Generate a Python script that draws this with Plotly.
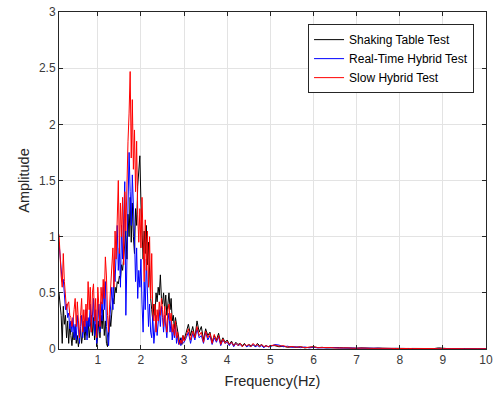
import numpy as np
import plotly.graph_objects as go

# Frequency grid (Hz): dense below 3 Hz, coarser above
freq = list(np.round(np.arange(0.100, 3.0001, 0.025), 3)) + \
       list(np.round(np.arange(3.05, 5.0001, 0.05), 3)) + \
       list(np.round(np.arange(5.1, 10.0001, 0.1), 3))

shaking_table = [
    0.50, 0.42, 0.30, 0.05, 0.38, 0.22, 0.30, 0.10, 0.25, 0.05,
    0.22, 0.12, 0.03, 0.15, 0.08, 0.20, 0.05, 0.12, 0.02, 0.10,
    0.18, 0.05, 0.15, 0.22, 0.08, 0.20, 0.12, 0.25, 0.10, 0.18,
    0.30, 0.12, 0.28, 0.08, 0.22, 0.02, 0.15, 0.25, 0.10, 0.30,
    0.18, 0.35, 0.12, 0.25, 0.05, 0.02, 0.15, 0.30, 0.20, 0.35,
    0.45, 0.40, 0.55, 0.50, 0.60, 0.58, 0.65, 0.62, 0.75, 0.70,
    0.85, 0.90, 1.05, 0.80, 1.20, 1.00, 1.35, 0.95, 1.30, 1.00,
    0.85, 1.25, 1.10, 1.45, 1.60, 1.72, 1.30, 1.10, 0.80, 1.05,
    0.85, 1.10, 0.75, 0.95, 0.60, 0.45, 0.35, 0.25, 0.40, 0.30,
    0.50, 0.42, 0.55, 0.48, 0.66, 0.45, 0.40, 0.50, 0.35, 0.48,
    0.30, 0.42, 0.50, 0.35, 0.45, 0.25, 0.30, 0.18, 0.28, 0.22,
    0.15, 0.08, 0.05, 0.10, 0.04, 0.12, 0.08,
    # 3.05 - 5.00
    0.15, 0.22, 0.12, 0.20, 0.10, 0.25, 0.15, 0.20, 0.08, 0.18,
    0.12, 0.15, 0.06, 0.12, 0.08, 0.14, 0.05, 0.10, 0.06, 0.08,
    0.04, 0.07, 0.03, 0.06, 0.04, 0.05, 0.03, 0.05, 0.02, 0.04,
    0.03, 0.04, 0.02, 0.05, 0.03, 0.04, 0.02, 0.03, 0.02, 0.03,
    # 5.1 - 10.0
    0.030, 0.020, 0.025, 0.015, 0.020, 0.015, 0.020, 0.010, 0.015, 0.020,
    0.012, 0.015, 0.010, 0.012, 0.008, 0.012, 0.010, 0.008, 0.010, 0.006,
    0.010, 0.007, 0.009, 0.006, 0.008, 0.005, 0.007, 0.005, 0.006, 0.004,
    0.006, 0.004, 0.005, 0.004, 0.005, 0.003, 0.005, 0.004, 0.010, 0.004,
    0.004, 0.003, 0.004, 0.003, 0.004, 0.003, 0.003, 0.002, 0.003, 0.002,
]

real_time_hybrid = [
    0.95, 0.80, 0.70, 0.60, 0.62, 0.45, 0.35, 0.40, 0.28, 0.32,
    0.18, 0.25, 0.15, 0.28, 0.10, 0.22, 0.08, 0.30, 0.12, 0.05,
    0.20, 0.30, 0.10, 0.25, 0.15, 0.35, 0.08, 0.28, 0.20, 0.40,
    0.15, 0.30, 0.45, 0.12, 0.35, 0.05, 0.30, 0.40, 0.15, 0.42,
    0.25, 0.55, 0.35, 0.60, 0.20, 0.08, 0.03, 0.25, 0.40, 0.55,
    0.35, 0.70, 0.60, 0.95, 1.10, 0.70, 0.90, 0.55, 1.10, 0.80,
    1.30, 1.49, 0.30, 0.90, 1.20, 1.75, 1.40, 1.10, 1.55, 1.30,
    1.00, 0.60, 0.90, 0.45, 0.70, 0.55, 0.80, 0.40, 0.15, 0.60,
    0.35, 0.80, 0.50, 0.20, 0.40, 0.15, 0.10, 0.30, 0.05, 0.18,
    0.30, 0.12, 0.25, 0.35, 0.20, 0.38, 0.28, 0.15, 0.30, 0.22,
    0.10, 0.25, 0.32, 0.15, 0.25, 0.08, 0.18, 0.10, 0.22, 0.05,
    0.12, 0.04, 0.08, 0.03, 0.10, 0.05, 0.06,
    # 3.05 - 5.00
    0.10, 0.15, 0.05, 0.14, 0.08, 0.18, 0.10, 0.12, 0.05, 0.15,
    0.08, 0.12, 0.04, 0.10, 0.06, 0.11, 0.03, 0.08, 0.05, 0.06,
    0.03, 0.06, 0.02, 0.05, 0.03, 0.04, 0.02, 0.04, 0.02, 0.03,
    0.02, 0.04, 0.02, 0.03, 0.02, 0.03, 0.01, 0.03, 0.02, 0.02,
    # 5.1 - 10.0
    0.040, 0.035, 0.020, 0.025, 0.015, 0.020, 0.012, 0.018, 0.010, 0.015,
    0.010, 0.012, 0.008, 0.010, 0.012, 0.008, 0.010, 0.006, 0.009, 0.007,
    0.008, 0.006, 0.007, 0.005, 0.007, 0.005, 0.006, 0.004, 0.006, 0.004,
    0.005, 0.004, 0.005, 0.003, 0.004, 0.003, 0.004, 0.003, 0.004, 0.003,
    0.003, 0.004, 0.003, 0.003, 0.002, 0.003, 0.002, 0.003, 0.002, 0.002,
]

slow_hybrid = [
    1.02, 0.75, 0.65, 0.55, 0.85, 0.60, 0.45, 0.35, 0.40, 0.42,
    0.30, 0.28, 0.20, 0.25, 0.35, 0.45, 0.20, 0.42, 0.25, 0.10,
    0.30, 0.45, 0.15, 0.35, 0.20, 0.40, 0.25, 0.60, 0.35, 0.55,
    0.15, 0.50, 0.58, 0.25, 0.45, 0.10, 0.55, 0.30, 0.20, 0.55,
    0.40, 0.62, 0.45, 0.82, 0.65, 0.30, 0.15, 0.40, 0.55, 0.75,
    0.90, 0.55, 1.05, 0.80, 1.15, 1.50, 0.85, 1.30, 1.00, 1.35,
    0.75, 1.40, 1.05, 1.60, 1.85, 2.10, 2.47, 1.70, 2.22, 1.60,
    1.95, 1.40, 1.85, 1.20, 0.95, 1.25, 0.90, 1.35, 1.05, 0.60,
    1.15, 0.70, 1.05, 0.55, 1.00, 0.45, 0.85, 0.30, 0.25, 0.40,
    0.15, 0.35, 0.25, 0.42, 0.30, 0.45, 0.35, 0.20, 0.38, 0.28,
    0.15, 0.35, 0.40, 0.25, 0.32, 0.15, 0.22, 0.12, 0.25, 0.10,
    0.15, 0.06, 0.04, 0.08, 0.05, 0.12, 0.07,
    # 3.05 - 5.00
    0.12, 0.18, 0.08, 0.16, 0.10, 0.20, 0.12, 0.15, 0.06, 0.16,
    0.10, 0.14, 0.05, 0.13, 0.07, 0.12, 0.04, 0.09, 0.05, 0.07,
    0.04, 0.06, 0.03, 0.05, 0.03, 0.05, 0.02, 0.04, 0.03, 0.04,
    0.02, 0.05, 0.03, 0.04, 0.02, 0.04, 0.02, 0.03, 0.02, 0.03,
    # 5.1 - 10.0
    0.035, 0.025, 0.030, 0.018, 0.022, 0.015, 0.020, 0.012, 0.016, 0.020,
    0.012, 0.014, 0.010, 0.013, 0.009, 0.011, 0.008, 0.010, 0.007, 0.009,
    0.006, 0.008, 0.006, 0.007, 0.005, 0.007, 0.005, 0.006, 0.004, 0.006,
    0.004, 0.005, 0.004, 0.005, 0.003, 0.004, 0.003, 0.004, 0.003, 0.004,
    0.003, 0.003, 0.002, 0.003, 0.002, 0.003, 0.002, 0.002, 0.002, 0.002,
]

series_names = ["Shaking Table Test", "Real-Time Hybrid Test", "Slow Hybrid Test"]
series_colors = ["#000000", "#0000ff", "#ff0000"]
x_ticks = [1, 2, 3, 4, 5, 6, 7, 8, 9, 10]
y_ticks = [0, 0.5, 1, 1.5, 2, 2.5, 3]
y_tick_labels = ["0", "0.5", "1", "1.5", "2", "2.5", "3"]

FONT = "Liberation Sans, Arial, sans-serif"

fig = go.Figure()
for name, vals, col in zip(series_names,
                           [shaking_table, real_time_hybrid, slow_hybrid],
                           series_colors):
    fig.add_trace(go.Scatter(x=freq, y=vals, mode="lines", name=name,
                             line=dict(color=col, width=1)))

axis_common = dict(
    showline=True, linecolor="#262626", linewidth=1, mirror="ticks",
    ticks="inside", ticklen=4, tickcolor="#262626", tickwidth=1,
    showgrid=True, gridcolor="#e3e3e3", gridwidth=1, zeroline=False,
    automargin=False,
    tickfont=dict(family=FONT, size=12, color="#3a3a3a"),
    title_font=dict(family=FONT, size=14.5, color="#262626"),
)

fig.update_layout(
    width=498, height=395,
    margin=dict(l=59, r=12, t=12, b=46),
    paper_bgcolor="white", plot_bgcolor="white",
    showlegend=True,
    legend=dict(x=0.972, y=0.964, xanchor="right", yanchor="top",
                bgcolor="white", bordercolor="#262626", borderwidth=1,
                font=dict(family=FONT, size=12, color="#000000"),
                itemwidth=30, tracegroupgap=0),
)
fig.update_xaxes(range=[0.1, 10], tickvals=x_ticks, title_text="Frequency(Hz)",
                 title_standoff=9, **axis_common)
fig.update_yaxes(range=[0, 3], tickvals=y_ticks, ticktext=y_tick_labels,
                 title_text="Amplitude", title_standoff=5, **axis_common)

fig.write_html("out.html")
